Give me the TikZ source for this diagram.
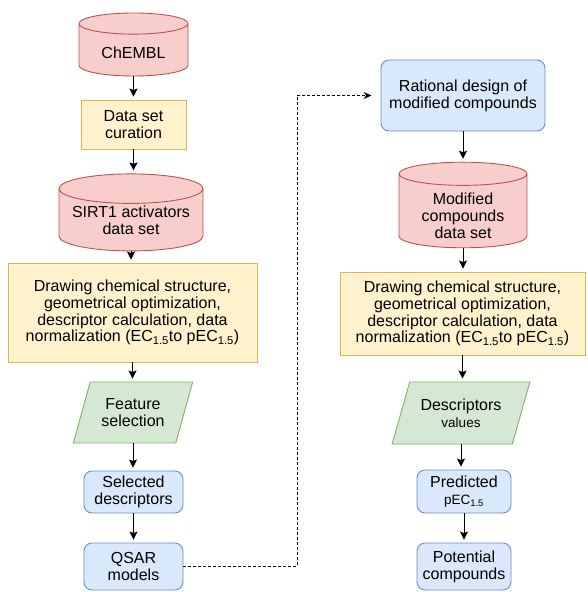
\documentclass[tikz,border=0pt]{standalone}
\usepackage{fontspec}
\setmainfont{Liberation Sans}
\usepackage{tikz}
\usetikzlibrary{arrows.meta,shapes.geometric}
\definecolor{dbfill}{HTML}{F8CECC}
\definecolor{dbline}{HTML}{B85450}
\definecolor{stepfill}{HTML}{FFF2CC}
\definecolor{stepline}{HTML}{D6B656}
\definecolor{iofill}{HTML}{D5E8D4}
\definecolor{ioline}{HTML}{82B366}
\definecolor{resfill}{HTML}{DAE8FC}
\definecolor{resline}{HTML}{6C8EBF}
% lower the text inside a cylinder without changing its size
\newcommand{\dbtext}[2]{\raisebox{-#1}[\height][\depth]{%
  \begin{tabular}{@{}c@{}}#2\end{tabular}}}

\begin{document}
\begin{tikzpicture}[
  x=1pt, y=-1pt,
  every node/.style={font=\fontsize{16}{16.8}\selectfont, align=center,
              inner sep=0pt, line width=0.9pt},
  db/.style={cylinder, shape border rotate=90, aspect=0.25, draw=dbline,
             fill=dbfill},
  stepbox/.style={draw=stepline, fill=stepfill},
  iobox/.style={trapezium, trapezium stretches=true, draw=ioline, fill=iofill},
  resbox/.style={draw=resline, fill=resfill, rounded corners=8pt},
  arr/.style={-{Stealth[length=8pt,width=8pt,inset=1.5pt]}, line width=0.9pt,
              shorten >=3pt},
  link/.style={-{Stealth[length=8pt,width=7pt]}, line width=0.9pt,
               dash pattern=on 3pt off 2pt, shorten >=9pt}
]
\useasboundingbox (0,0) rectangle (587,592);

% Left: model building
\node[db, aspect=0.33, minimum width=109pt, minimum height=63pt] (chembl) at (133.5, 50)
  {\dbtext{5pt}{ChEMBL}};
\node[stepbox, minimum width=105pt, minimum height=49pt] (curation) at (133.5, 124.5)
  {Data set\\curation};
\node[db, minimum width=144pt, minimum height=77pt] (sirt) at (131, 220)
  {SIRT1 activators\\data set};
\node[stepbox, minimum width=249pt, minimum height=99pt] (prepL) at (132.5, 312.5)
  {Drawing chemical structure,\\geometrical optimization,\\descriptor calculation, data\\
   normalization (EC\textsubscript{1.5}to pEC\textsubscript{1.5})};
\node[iobox, trapezium left angle=66, trapezium right angle=114,
      minimum width=120pt, minimum height=61pt] (feat) at (133, 412.5)
  {Feature\\selection};
\node[resbox, minimum width=99pt, minimum height=42pt] (seldesc) at (133.5, 492)
  {Selected\\descriptors};
\node[resbox, minimum width=99pt, minimum height=47pt] (qsar) at (133.5, 566.5)
  {QSAR\\models};

% Right: prediction for new compounds
\node[resbox, minimum width=164pt, minimum height=71pt] (design) at (463, 95.5)
  {Rational design of\\modified compounds};
\node[db, aspect=0.28, minimum width=128pt, minimum height=84pt] (modset) at (463, 211)
  {\dbtext{7pt}{Modified\\compounds\\data set}};
\node[stepbox, minimum width=245pt, minimum height=83pt] (prepR) at (462.5, 313.5)
  {Drawing chemical structure,\\geometrical optimization,\\descriptor calculation, data\\
   normalization (EC\textsubscript{1.5}to pEC\textsubscript{1.5})};
\node[iobox, trapezium left angle=64, trapezium right angle=116,
      minimum width=138pt, minimum height=62pt] (desc) at (461, 413)
  {Descriptors\\{\fontsize{13.5}{14}\selectfont values}};
\node[resbox, minimum width=94pt, minimum height=43pt] (pred) at (464, 491.5)
  {Predicted\\{\fontsize{13.5}{14}\selectfont pEC\textsubscript{1.5}}};
\node[resbox, minimum width=94pt, minimum height=47pt] (pot) at (464, 566.5)
  {Potential\\compounds};

\draw[arr] (chembl.south) -- (chembl.south |- curation.north);
\draw[arr] (curation.south) -- (curation.south |- sirt.north);
\draw[arr] (sirt.south) -- (sirt.south |- prepL.north);
\draw[arr] (prepL.south) -- (prepL.south |- feat.north);
\draw[arr] (feat.south) -- (feat.south |- seldesc.north);
\draw[arr] (seldesc.south) -- (seldesc.south |- qsar.north);

\draw[arr] (design.south) -- (design.south |- modset.north);
\draw[arr] (modset.south) -- (modset.south |- prepR.north);
\draw[arr] (prepR.south) -- (prepR.south |- desc.north);
\draw[arr] (desc.south) -- (desc.south |- pred.north);
\draw[arr] (pred.south) -- (pred.south |- pot.north);

\coordinate (turn) at (297, 0);
\draw[link] (qsar.east) -| (turn |- design.west) -- (design.west);

\end{tikzpicture}
\end{document}
